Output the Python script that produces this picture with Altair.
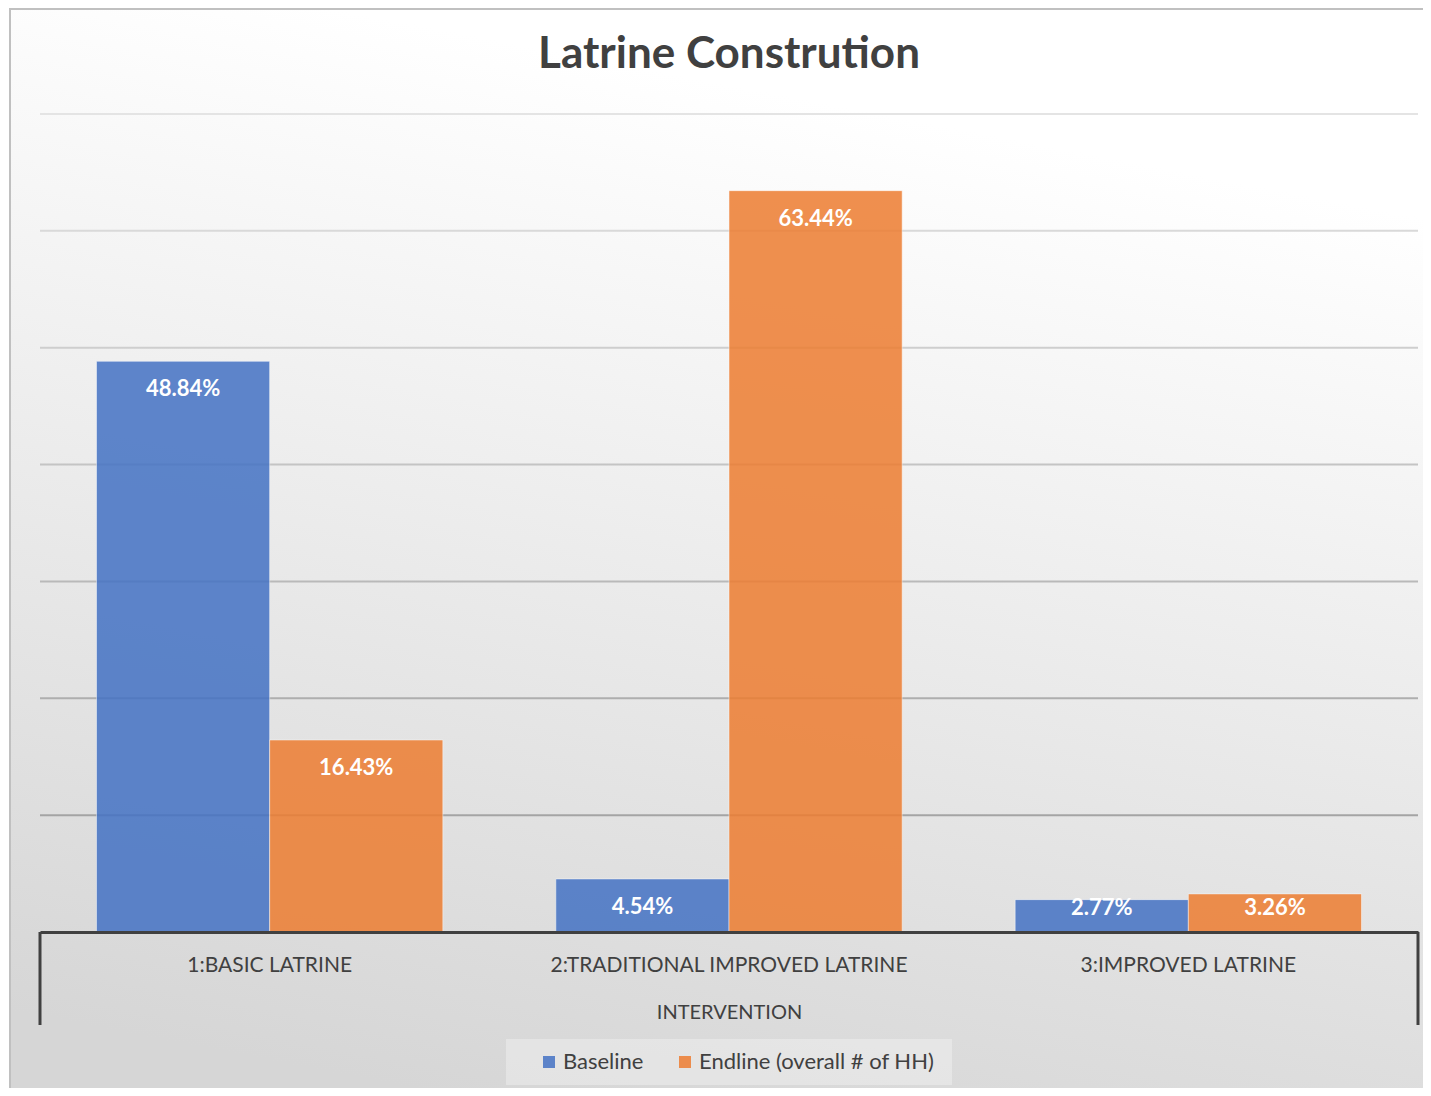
import altair as alt
import pandas as pd

# ---- data ----
categories = ["1:BASIC LATRINE", "2:TRADITIONAL IMPROVED LATRINE", "3:IMPROVED LATRINE"]
series = ["Baseline", "Endline (overall # of HH)"]
baseline = [48.84, 4.54, 2.77]
endline = [16.43, 63.44, 3.26]
grid_values = [10, 20, 30, 40, 50, 60, 70]
title_text = "Latrine Constrution"
axis_title = "INTERVENTION"
colors = ["#4472C4", "#ED7D31"]

rows = []
for c, b, e in zip(categories, baseline, endline):
    rows.append({"Category": c, "Group": series[0], "Value": b})
    rows.append({"Category": c, "Group": series[1], "Value": e})
df = pd.DataFrame(rows)

W, H = 1378, 818
FONT = "Lato"
TXT = "#404040"
one = pd.DataFrame({"t": [title_text]})

ydom = alt.Scale(domain=[0, 70], nice=False, zero=True)

x_enc = alt.X(
    "Category:N",
    sort=categories,
    scale=alt.Scale(paddingInner=0.246, paddingOuter=0.123),
    axis=alt.Axis(
        title=axis_title, labelAngle=0, ticks=False, tickSize=0,
        domainColor=TXT, domainWidth=3, zindex=2,
        labelFont=FONT, labelFontSize=21, labelColor=TXT, labelPadding=22,
        titleFont=FONT, titleFontSize=20, titleFontWeight="normal",
        titleColor=TXT, titlePadding=27, labelLimit=500,
    ),
)
xoff_enc = alt.XOffset("Group:N", sort=series, scale=alt.Scale(paddingInner=0, paddingOuter=0))

bg_gradient = {
    "gradient": "linear",
    "x1": 0.65, "y1": 0, "x2": 0.4, "y2": 1,
    "stops": [
        {"offset": 0, "color": "#ffffff"},
        {"offset": 0.1, "color": "#ffffff"},
        {"offset": 1, "color": "#d6d6d6"},
    ],
}

background = alt.Chart(one).mark_rect(
    fill=bg_gradient, stroke="#c0c0c0", strokeWidth=2
).encode(
    x=alt.value(-30), x2=alt.value(W + 40),
    y=alt.value(-105), y2=alt.value(H + 190),
)

legend_box = alt.Chart(one).mark_rect(fill="#ffffff", fillOpacity=0.3).encode(
    x=alt.value(466), x2=alt.value(912), y=alt.value(925), y2=alt.value(971)
)

grid = alt.Chart(pd.DataFrame({"g": grid_values})).mark_rule(strokeWidth=2).encode(
    y=alt.Y("g:Q", scale=ydom, axis=None),
    stroke=alt.Stroke("g:Q", scale=alt.Scale(domain=[10, 70], range=["#a4a4a4", "#e4e4e4"]), legend=None),
)

bars = alt.Chart(df).mark_bar(
    opacity=0.85, stroke="#ffffff", strokeOpacity=0.5, strokeWidth=1
).encode(
    x=x_enc,
    xOffset=xoff_enc,
    y=alt.Y("Value:Q", scale=ydom, axis=None),
    fill=alt.Fill(
        "Group:N", sort=series,
        scale=alt.Scale(domain=series, range=colors),
        legend=alt.Legend(
            title=None, orient="none", legendX=498, legendY=937,
            direction="horizontal", symbolType="square", symbolSize=144,
            symbolOpacity=0.85, symbolStrokeWidth=0,
            labelFont=FONT, labelFontSize=22, labelColor=TXT, labelLimit=500,
            labelOffset=3, columnPadding=30, padding=0, zindex=2,
        ),
    ),
)

labels = alt.Chart(df).transform_calculate(
    lp="max(datum.Value - 2.4, 2.05)",
    lbl="format(datum.Value, '.2f') + '%'",
).mark_text(
    color="white", fontWeight="bold", fontSize=22, font=FONT, baseline="middle", align="center"
).encode(
    x=x_enc,
    xOffset=xoff_enc,
    y=alt.Y("lp:Q", scale=ydom, axis=None),
    text="lbl:N",
)

edge_left = alt.Chart(one).mark_rule(color=TXT, strokeWidth=3).encode(
    x=alt.value(0), y=alt.value(H), y2=alt.value(H + 93)
)
edge_right = alt.Chart(one).mark_rule(color=TXT, strokeWidth=3).encode(
    x=alt.value(W), y=alt.value(H), y2=alt.value(H + 93)
)

title = alt.Chart(one).mark_text(
    font=FONT, fontSize=44, fontWeight="bold", color=TXT,
    baseline="alphabetic", align="center",
).encode(x=alt.value(W / 2), y=alt.value(-46), text="t:N")

chart = alt.layer(
    background, legend_box, grid, bars, labels, edge_left, edge_right, title
).properties(
    width=W, height=H,
    autosize=alt.AutoSizeParams(type="none"),
    padding={"left": 32, "top": 106, "right": 5, "bottom": 156},
    background="white",
).configure_view(strokeWidth=0)

chart.save("out.html", embed_options={"renderer": "svg", "actions": False})
